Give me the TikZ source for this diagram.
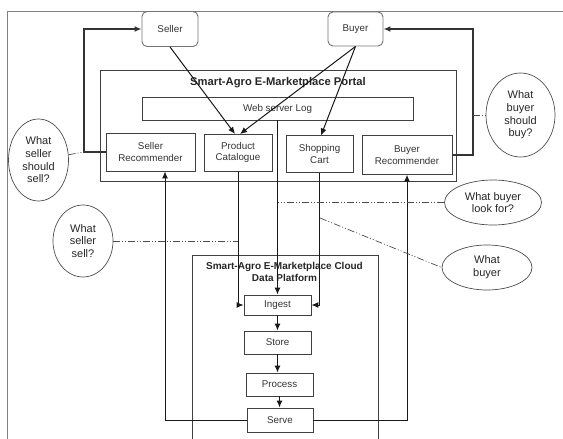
\documentclass[tikz,border=0pt]{standalone}
\usepackage{fontspec}
\setmainfont{Liberation Sans}
\usetikzlibrary{arrows.meta,shapes.geometric}
\begin{document}
\begin{tikzpicture}[x=1pt,y=-1pt,
  box/.style={draw=black!75, line width=0.9pt, rectangle, inner sep=0pt, align=center,
    font=\fontsize{9.8}{11.7}\selectfont, text=black!80},
  actor/.style={box, rounded corners=5pt, draw=black!55},
  bubble/.style={draw=black!70, line width=0.7pt, ellipse, inner sep=0pt, align=center,
    font=\fontsize{11}{12.7}\selectfont, text=black!85},
  container/.style={draw=black!75, line width=0.9pt},
  tip/.style={-{Latex[length=7pt,width=6pt]}},
  arr/.style={draw=black!90, line width=1pt, tip},
  fb/.style={draw=black!80, line width=1.4pt, tip},
  dd/.style={draw=black!70, line width=0.7pt, dash pattern=on 7pt off 2pt on 1pt off 2pt on 1pt off 2pt},
  frame/.style={draw=black!50, line width=0.6pt},
  title/.style={font=\bfseries\fontsize{11.2}{13}\selectfont, text=black!85, align=center, inner sep=0pt}
]
\useasboundingbox (0,0) rectangle (563,439);
% outer frame
\draw[frame] (7,439) -- (7,11.5) -- (563,11.5);
% portal container
\node[container, rectangle, minimum width=356pt, minimum height=111pt, inner sep=0pt] (portal) at (278,125.5) {};
\node[title] (ptitle) at (278,82.5) {Smart-Agro E-Marketplace Portal};
% cloud container (open at bottom)
\draw[container] (192,439) -- (192,255) -- (378,255) -- (378,439);
\node[title, font=\bfseries\fontsize{10}{11.7}\selectfont] (ctitle) at (284.5,272) {Smart-Agro E-Marketplace Cloud\\Data Platform};
% actors
\node[actor, minimum width=56pt, minimum height=35pt] (seller) at (170,29) {Seller};
\node[actor, minimum width=55pt, minimum height=34pt] (buyer) at (355.5,29) {Buyer};
% portal boxes
\node[box, minimum width=271pt, minimum height=23pt] (log) at (277.5,108.5) {Web server Log};
\node[box, minimum width=89pt, minimum height=38pt] (sr) at (150.5,152) {Seller\\Recommender};
\node[box, minimum width=68pt, minimum height=37pt] (pc) at (238,152.5) {Product\\Catalogue};
\node[box, minimum width=67pt, minimum height=37.5pt] (sc) at (319.5,154) {Shopping\\Cart};
\node[box, minimum width=90pt, minimum height=38.5pt] (br) at (407,155) {Buyer\\Recommender};
% cloud boxes
\node[box, minimum width=67pt, minimum height=20pt] (ingest) at (277.5,305) {Ingest};
\node[box, minimum width=67pt, minimum height=23pt] (store) at (277.5,342.5) {Store};
\node[box, minimum width=67pt, minimum height=23pt] (process) at (279.5,384.5) {Process};
\node[box, minimum width=66pt, minimum height=24pt] (serve) at (280,420) {Serve};
% bubbles
\node[bubble, minimum width=60pt, minimum height=82pt] (q1) at (38.5,160) {What\\seller\\should\\sell?};
\node[bubble, minimum width=60pt, minimum height=72pt] (q2) at (83,241) {What\\seller\\sell?};
\node[bubble, minimum width=69pt, minimum height=84pt] (q3) at (520.5,115) {What\\buyer\\should\\buy?};
\node[bubble, minimum width=97pt, minimum height=45pt] (q4) at (493,202.5) {What buyer\\look for?};
\node[bubble, minimum width=90pt, minimum height=45pt] (q5) at (487,267.5) {What\\buyer};
% feedback loops to actors
\coordinate (lc1) at (84,152);
\coordinate (lc2) at (84,29);
\draw[fb] (sr.west) -- (lc1) -- (lc2) -- (seller.west);
\coordinate (rc1) at (473,155);
\coordinate (rc2) at (473,29);
\draw[fb] (br.east) -- (rc1) -- (rc2) -- (buyer.east);
% actor arrows
\coordinate (pcin1) at (235,134);
\coordinate (pcin2) at (240,134);
\coordinate (scin) at (321,135.5);
\draw[arr] (seller.south) -- (pcin1);
\draw[arr] (buyer.south) -- (pcin2);
\draw[arr] (buyer.south) -- (scin);
% into ingest
\draw[arr] (log.south) -- (ingest.north);
\draw[arr] (pc.south) |- (ingest.west);
\draw[arr] (sc.south) |- (ingest.east);
% pipeline
\draw[arr] (ingest.south) -- (store.north);
\draw[arr] (store.south) -- (store.south |- process.north);
\draw[arr] (process.south) -- (process.south |- serve.north);
% serve back to recommenders
\coordinate (sl) at (165,420);
\draw[arr] (serve.west) -- (sl) -- (sl |- sr.south);
\draw[arr] (serve.east) -| (br.south);
% dash-dot annotations
\draw[dd] (q1) -- (lc1);
\draw[dd] (q2.east) -- (pc.south |- q2.east);
\draw[dd] (q4.west) -- (log.south |- q4.west);
\coordinate (bd) at (320,218);
\draw[dd] (bd) -- (q5.west);
\draw[dd] (rc2 |- q3.west) -- (q3.west);
\end{tikzpicture}
\end{document}
